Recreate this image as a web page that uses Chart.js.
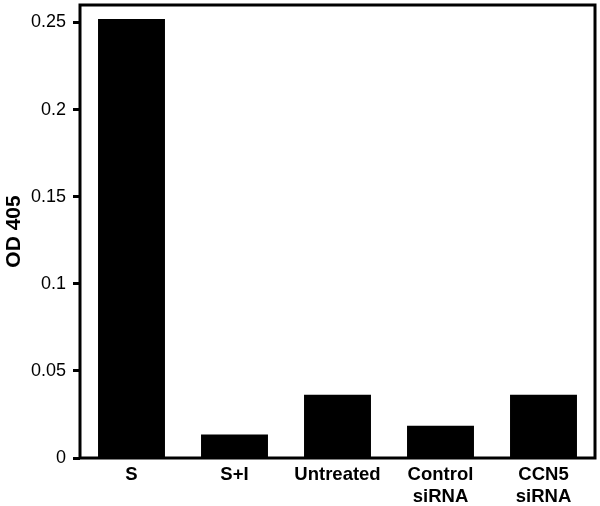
<!DOCTYPE html>
<html>
<head>
<meta charset="utf-8">
<script src="https://cdn.jsdelivr.net/npm/chart.js@4/dist/chart.umd.min.js"></script>
<style>
  html, body { margin: 0; padding: 0; background: #fff; }
  #wrap { width: 600px; height: 506px; }
</style>
</head>
<body>
<div id="wrap"><canvas id="odChart"></canvas></div>
<script>
const categories = [['S'], ['S+I'], ['Untreated'], ['Control', 'siRNA'], ['CCN5', 'siRNA']];
const odValues = [0.252, 0.0135, 0.0363, 0.0185, 0.0363];
const yTicks = [0, 0.05, 0.1, 0.15, 0.2, 0.25];

const FONT = "'Liberation Sans', Arial, sans-serif";

// frame around the plot area
const boxPlugin = {
    id: 'box',
    afterDraw(chart) {
        const { ctx, chartArea: a } = chart;
        ctx.save();
        ctx.strokeStyle = '#000';
        ctx.lineWidth = 3;
        ctx.strokeRect(a.left, a.top, a.right - a.left, a.bottom - a.top);
        ctx.restore();
    }
};

new Chart(document.getElementById('odChart'), {
    type: 'bar',
    data: {
        labels: categories,
        datasets: [{
            data: odValues,
            backgroundColor: '#000',
            borderWidth: 0,
            categoryPercentage: 1,
            barPercentage: 0.65
        }]
    },
    options: {
        responsive: true,
        maintainAspectRatio: false,
        animation: false,
        layout: { padding: { top: 5, right: 5, left: 0, bottom: 0 } },
        plugins: {
            legend: { display: false },
            tooltip: { enabled: false }
        },
        scales: {
            x: {
                grid: { display: false },
                border: { display: false },
                ticks: {
                    color: '#000',
                    padding: -2,
                    maxRotation: 0,
                    font: { family: FONT, size: 18.5, weight: 'bold', lineHeight: 1.19 }
                },
                afterFit(scale) {
                    scale.height = 48;
                    scale.paddingLeft = 0;
                    scale.paddingRight = 0;
                }
            },
            y: {
                min: 0,
                max: 0.26,
                afterBuildTicks(scale) {
                    scale.ticks = yTicks.map(v => ({ value: v }));
                },
                grid: {
                    drawOnChartArea: false,
                    drawTicks: true,
                    tickLength: 7,
                    tickWidth: 3,
                    color: '#000'
                },
                border: { display: false },
                ticks: {
                    color: '#000',
                    padding: 7,
                    font: { family: FONT, size: 18 },
                    callback: v => String(v)
                },
                title: {
                    display: true,
                    text: 'OD 405',
                    color: '#000',
                    padding: { top: 2, bottom: 0 },
                    font: { family: FONT, size: 21, weight: 'bold' }
                },
                afterFit(scale) {
                    scale.width = 80;
                    scale.paddingTop = 0;
                    scale.paddingBottom = 0;
                }
            }
        }
    },
    plugins: [boxPlugin]
});
</script>
</body>
</html>
